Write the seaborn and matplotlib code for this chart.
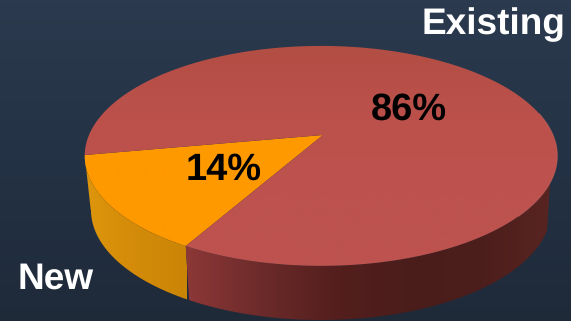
import numpy as np
import matplotlib
matplotlib.use("Agg")
import matplotlib.pyplot as plt
from matplotlib.patches import Polygon
import seaborn as sns

segments = ["New", "Existing"]
shares = [14, 86]
top_ramps = [["#FF9900", "#FF9900"], ["#B24E44", "#BC514C", "#BD524E", "#BD524E"]]
wall_ramps = [
    ["#DE960D", "#D38B09", "#CB8506"],
    ["#8C3837", "#6C2B2A", "#541F1D", "#4A1D1B", "#4C1E1C", "#5A2522"],
]
label_pos = [(224, 170), (409, 110)]
name_pos = [(55.5, 279), (493, 25)]

W, H = 571, 321
CX, CY = 321, 156      # centre of the top ellipse
SX, SY = 232, 110      # projection scale
APEX_X = 323
APEX_LIFT, TILT = 21, 0.19
WALL_CX, WALL_CY, WALL_A, WALL_B = 321, 210, 230, 110
START = 190.5

sns.set_theme(style="white")
plt.rcParams["font.family"] = ["Liberation Sans", "DejaVu Sans"]
plt.rcParams["text.hinting"] = "no_hinting"
plt.rcParams["text.hinting_factor"] = 1


def project(theta_deg, r=1.0):
    """Perspective view of a point on the flat pie disc."""
    t = np.radians(theta_deg)
    u, v = r * np.cos(t), r * np.sin(t)
    d = 1 + TILT * v
    return CX + SX * u / d, CY - (SY * v + APEX_LIFT) / d


def shaded(points, ramp, extent, horizontal):
    """Fill a polygon with a colour ramp clipped to its outline."""
    outline = Polygon(points, closed=True, fc="none", ec="none", transform=ax.transData)
    ax.add_patch(outline)
    colours = np.array(sns.blend_palette(ramp, 256))
    strip = colours[None, :, :] if horizontal else colours[:, None, :]
    img = ax.imshow(strip, extent=extent, aspect="auto", zorder=2, interpolation="bilinear")
    img.set_clip_path(outline)
    return img


fig = plt.figure(figsize=(W / 100, H / 100), dpi=100)
ax = fig.add_axes([0, 0, 1, 1])

# The pie layout supplies the wedge angles
wedges, _ = ax.pie(shares, startangle=START, counterclock=True)
spans = [(w.theta1, w.theta2) for w in wedges]
for w in wedges:
    w.set_visible(False)

# Backdrop
back = sns.blend_palette(["#2B3A4E", "#243245", "#1F2A39"], 64)
ax.imshow(np.array(back)[:, None, :], extent=(0, W, H, 0), aspect="auto", zorder=0)

# Side wall of each segment, on the part of the rim that faces the viewer
for (t1, t2), ramp in zip(spans, wall_ramps):
    a1, a2 = max(t1, 180.0), min(t2, 360.0)
    angles = np.linspace(a1, a2, 300)
    xs, ys = project(angles)
    bxs = WALL_CX + (xs - CX) * WALL_A / 236.0
    bys = WALL_CY + WALL_B * np.sqrt(np.clip(1 - ((bxs - WALL_CX) / WALL_A) ** 2, 0, 1))
    pts = np.column_stack([np.r_[xs, bxs[::-1]], np.r_[ys, bys[::-1]]])
    shaded(pts, ramp, (xs.min(), xs.max(), H, 0), True)

# Top face
for (t1, t2), ramp in zip(spans, top_ramps):
    angles = np.linspace(t1, t2, 400)
    xs, ys = project(angles)
    pts = np.column_stack([np.r_[APEX_X, xs], np.r_[CY - APEX_LIFT, ys]])
    img = shaded(pts, ramp, (0, W, 270, 44), False)
    img.set_zorder(3)

# Pale highlight along the right-hand rim
rim_x, rim_y = project(np.linspace(318, 372, 120))
ax.plot(rim_x, rim_y, color="#CB6A62", lw=0.8, alpha=0.5, zorder=4)

# Labels
for share, (x, y) in zip(shares, label_pos):
    ax.text(x, y, f"{share}%", ha="center", va="center", color="black",
            fontsize=27.5, fontweight="bold", zorder=5)
for name, (x, y) in zip(segments, name_pos):
    ax.text(x, y, name, ha="center", va="center", color="white",
            fontsize=26.5, fontweight="bold", zorder=5)

ax.set_aspect("auto")
ax.set_xlim(0, W)
ax.set_ylim(H, 0)
ax.axis("off")

fig.savefig("out.png", dpi=100)
